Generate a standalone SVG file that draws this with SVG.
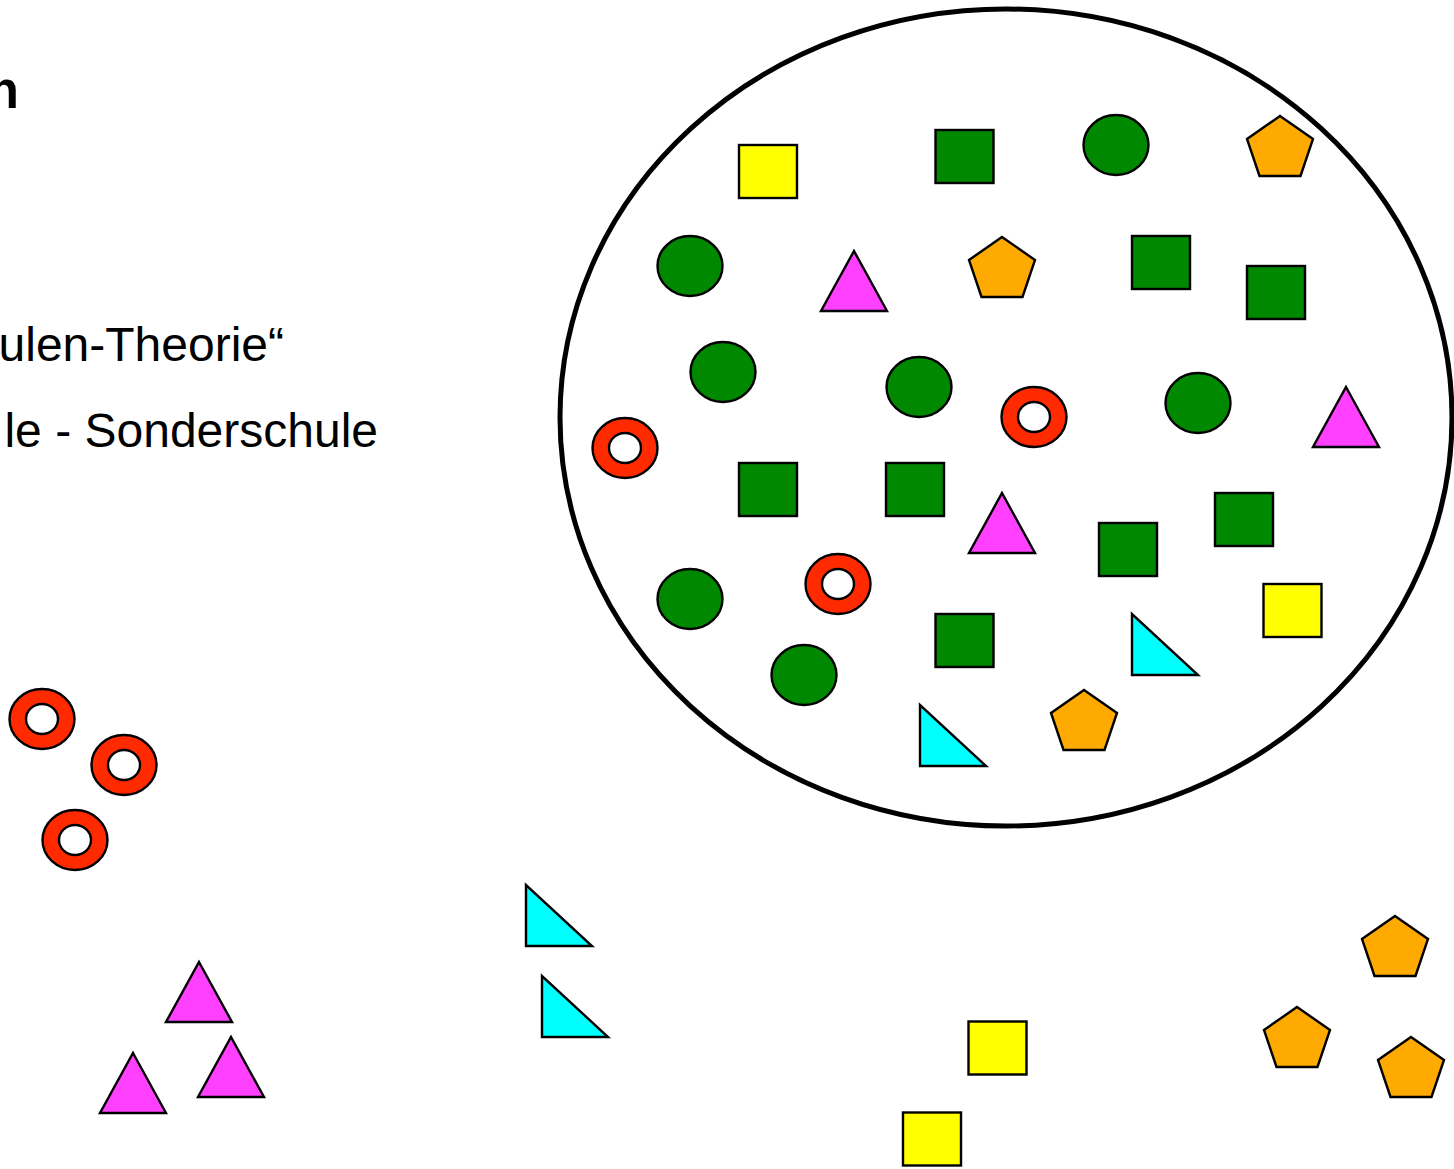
<svg xmlns="http://www.w3.org/2000/svg" xmlns:xlink="http://www.w3.org/1999/xlink" width="1454" height="1169" viewBox="0 0 1454 1169">
<style>
.txt{font-family:"Liberation Sans",Arial,sans-serif;font-size:48px;fill:#000}
.b{font-weight:bold;font-size:51px}
.s{stroke:#000;stroke-width:2.4}
.g{fill:#008800}
.y{fill:#FFFF00}
.o{fill:#FFAA00}
.m{fill:#FF40FF}
.c{fill:#00FFFF}
.r{fill:#FF2A00}
.w{fill:#FFFFFF}
</style>
<defs>
<rect id="sq" class="s" x="-29" y="-26.5" width="58" height="53"/>
<ellipse id="ci" class="s" cx="0" cy="0" rx="32.5" ry="30"/>
<g id="ring"><ellipse class="s r" cx="0" cy="0" rx="32.5" ry="30"/><ellipse class="s w" cx="0" cy="0" rx="16" ry="15"/></g>
<polygon id="tri" class="s m" points="0,0 33,60 -33,60"/>
<polygon id="rtri" class="s c" points="0,0 0,61 66,61"/>
<polygon id="pent" class="s o" points="0,0 33,23 20.5,60 -20.5,60 -33,23"/>
</defs>
<rect width="1454" height="1169" fill="#fff"/>
<g id="texts">
<text class="txt b" x="19" y="108" text-anchor="end">n</text>
<text class="txt" x="284" y="361" text-anchor="end">ulen-Theorie“</text>
<text class="txt" x="378" y="447" text-anchor="end">le - Sonderschule</text>
</g>
<g id="set"><ellipse cx="1006" cy="417.5" rx="446" ry="408.5" fill="none" stroke="#000" stroke-width="5"/></g>
<g id="inside">
<g id="n1"><use xlink:href="#sq" class="y" x="768" y="171.5"/></g>
<g id="n2"><use xlink:href="#sq" class="g" x="964.5" y="156.5"/></g>
<g id="n3"><use xlink:href="#ci" class="g" x="1116" y="145"/></g>
<g id="n4"><use xlink:href="#pent" x="1280" y="116"/></g>
<g id="n5"><use xlink:href="#ci" class="g" x="690" y="266"/></g>
<g id="n6"><use xlink:href="#tri" x="854" y="251"/></g>
<g id="n7"><use xlink:href="#pent" x="1002" y="237"/></g>
<g id="n8"><use xlink:href="#sq" class="g" x="1161" y="262.5"/></g>
<g id="n9"><use xlink:href="#sq" class="g" x="1276" y="292.5"/></g>
<g id="n10"><use xlink:href="#ci" class="g" x="723" y="372"/></g>
<g id="n11"><use xlink:href="#ci" class="g" x="919" y="387"/></g>
<g id="n12"><use xlink:href="#ring" x="1034" y="417"/></g>
<g id="n13"><use xlink:href="#ci" class="g" x="1198" y="403"/></g>
<g id="n14"><use xlink:href="#tri" x="1346" y="387"/></g>
<g id="n15"><use xlink:href="#ring" x="625" y="448"/></g>
<g id="n16"><use xlink:href="#sq" class="g" x="768" y="489.5"/></g>
<g id="n17"><use xlink:href="#sq" class="g" x="915" y="489.5"/></g>
<g id="n18"><use xlink:href="#tri" x="1002" y="493"/></g>
<g id="n19"><use xlink:href="#sq" class="g" x="1128" y="549.5"/></g>
<g id="n20"><use xlink:href="#sq" class="g" x="1244" y="519.5"/></g>
<g id="n21"><use xlink:href="#ci" class="g" x="690" y="599"/></g>
<g id="n22"><use xlink:href="#ring" x="838" y="584"/></g>
<g id="n23"><use xlink:href="#sq" class="y" x="1292.5" y="610.5"/></g>
<g id="n24"><use xlink:href="#sq" class="g" x="964.5" y="640.5"/></g>
<g id="n25"><use xlink:href="#rtri" x="1132" y="614"/></g>
<g id="n26"><use xlink:href="#ci" class="g" x="804" y="675"/></g>
<g id="n27"><use xlink:href="#rtri" x="920" y="705"/></g>
<g id="n28"><use xlink:href="#pent" x="1084" y="690"/></g>
</g>
<g id="outside">
<g id="o1"><use xlink:href="#ring" x="42" y="719"/></g>
<g id="o2"><use xlink:href="#ring" x="124" y="765"/></g>
<g id="o3"><use xlink:href="#ring" x="75" y="840"/></g>
<g id="o4"><use xlink:href="#tri" x="199" y="962"/></g>
<g id="o5"><use xlink:href="#tri" x="231" y="1037"/></g>
<g id="o6"><use xlink:href="#tri" x="133" y="1053"/></g>
<g id="o7"><use xlink:href="#rtri" x="526" y="885"/></g>
<g id="o8"><use xlink:href="#rtri" x="542" y="976"/></g>
<g id="o9"><use xlink:href="#sq" class="y" x="997.5" y="1048"/></g>
<g id="o10"><use xlink:href="#sq" class="y" x="932" y="1139"/></g>
<g id="o11"><use xlink:href="#pent" x="1395" y="916"/></g>
<g id="o12"><use xlink:href="#pent" x="1297" y="1007"/></g>
<g id="o13"><use xlink:href="#pent" x="1411" y="1037"/></g>
</g>
<g id="connectors"/>
</svg>
